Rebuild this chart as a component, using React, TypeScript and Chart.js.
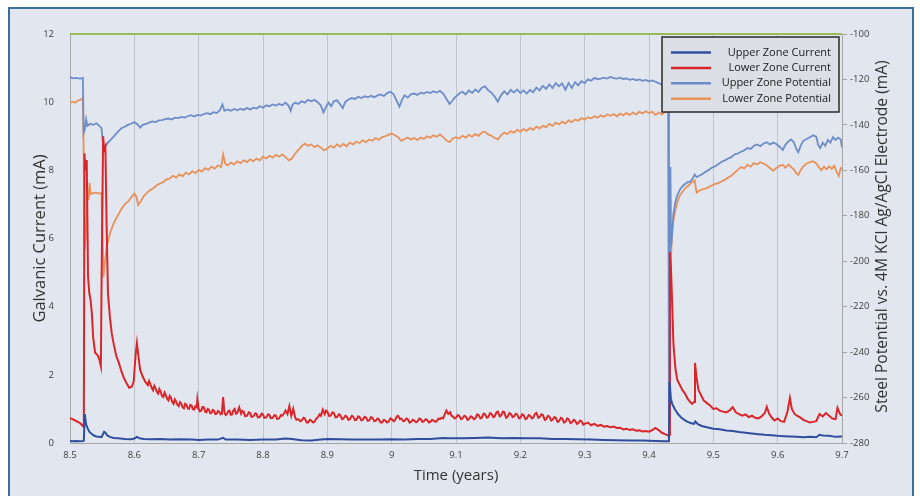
import React, { useEffect, useRef } from "react";
import { Chart, registerables } from "chart.js";

Chart.register(...registerables);

// ---------- DATA ----------
const seriesLabels = [
  "Upper Zone Current",
  "Lower Zone Current",
  "Upper Zone Potential",
  "Lower Zone Potential",
];

const xTicks = [8.5, 8.6, 8.7, 8.8, 8.9, 9.0, 9.1, 9.2, 9.3, 9.4, 9.5, 9.6, 9.7];
const leftTicks = [0, 2, 4, 6, 8, 10, 12];
const rightTicks = [-280, -260, -240, -220, -200, -180, -160, -140, -120, -100];

// [time (years), current (mA)]
const upperZoneCurrent: [number, number][] = [
  [8.5, 0.06], [8.505, 0.05], [8.51, 0.06], [8.515, 0.05], [8.52, 0.06], [8.5215, 0.07],
  [8.523, 0.85], [8.525, 0.55], [8.527, 0.45], [8.53, 0.33], [8.533, 0.28], [8.537, 0.22],
  [8.541, 0.19], [8.545, 0.18], [8.549, 0.17], [8.551, 0.25], [8.553, 0.33], [8.555, 0.3],
  [8.558, 0.22], [8.562, 0.18], [8.568, 0.15], [8.575, 0.14], [8.585, 0.12], [8.595, 0.11],
  [8.6, 0.13], [8.604, 0.18], [8.608, 0.14], [8.615, 0.12], [8.625, 0.11], [8.64, 0.12],
  [8.655, 0.1], [8.67, 0.11], [8.69, 0.1], [8.7, 0.09], [8.715, 0.1], [8.73, 0.1],
  [8.738, 0.15], [8.742, 0.1], [8.76, 0.1], [8.78, 0.09], [8.8, 0.1], [8.82, 0.1],
  [8.835, 0.13], [8.845, 0.12], [8.86, 0.08], [8.875, 0.07], [8.89, 0.1], [8.9, 0.12],
  [8.92, 0.11], [8.94, 0.1], [8.96, 0.1], [8.98, 0.1], [9.0, 0.11], [9.02, 0.1],
  [9.04, 0.12], [9.06, 0.12], [9.08, 0.15], [9.09, 0.14], [9.11, 0.14], [9.13, 0.15],
  [9.15, 0.16], [9.17, 0.14], [9.19, 0.15], [9.21, 0.14], [9.23, 0.14], [9.25, 0.12],
  [9.27, 0.12], [9.29, 0.11], [9.31, 0.1], [9.33, 0.09], [9.35, 0.08], [9.37, 0.07],
  [9.39, 0.07], [9.41, 0.06], [9.425, 0.05], [9.431, 0.05], [9.432, 1.8], [9.434, 1.3],
  [9.436, 1.15], [9.44, 1.0], [9.445, 0.85], [9.45, 0.75], [9.455, 0.68], [9.46, 0.62],
  [9.466, 0.58], [9.47, 0.56], [9.472, 0.63], [9.476, 0.55], [9.482, 0.5], [9.49, 0.46],
  [9.5, 0.42], [9.51, 0.4], [9.52, 0.37], [9.53, 0.35], [9.54, 0.32], [9.55, 0.3],
  [9.56, 0.28], [9.57, 0.26], [9.58, 0.24], [9.59, 0.23], [9.6, 0.21], [9.61, 0.2],
  [9.62, 0.19], [9.63, 0.18], [9.64, 0.17], [9.65, 0.18], [9.66, 0.17], [9.665, 0.24],
  [9.67, 0.22], [9.68, 0.21], [9.69, 0.18], [9.7, 0.19],
];

// [time (years), current (mA)]
const lowerZoneCurrent: [number, number][] = [
  [8.5, 0.73], [8.504, 0.7], [8.508, 0.66], [8.512, 0.62], [8.516, 0.58], [8.52, 0.5],
  [8.5215, 0.47], [8.5225, 8.5], [8.524, 8.0], [8.526, 8.3], [8.528, 4.9], [8.53, 4.4],
  [8.532, 4.2], [8.534, 3.8], [8.536, 3.1], [8.539, 2.65], [8.542, 2.6], [8.545, 2.5],
  [8.548, 2.25], [8.549, 4.6], [8.5515, 9.0], [8.553, 8.6], [8.555, 8.7], [8.557, 6.3],
  [8.559, 4.4], [8.562, 3.7], [8.565, 3.2], [8.568, 2.9], [8.572, 2.55], [8.576, 2.35],
  [8.58, 2.1], [8.584, 1.9], [8.588, 1.75], [8.592, 1.62], [8.596, 1.65], [8.599, 1.8],
  [8.602, 2.6], [8.604, 2.93], [8.606, 2.6], [8.609, 2.15], [8.613, 1.95], [8.617, 1.8],
  [8.621, 1.7], [8.623, 1.82], [8.625, 1.72], [8.627, 1.62], [8.629, 1.55], [8.631, 1.68],
  [8.633, 1.6], [8.635, 1.5], [8.637, 1.45], [8.639, 1.58], [8.641, 1.5], [8.643, 1.38],
  [8.645, 1.35], [8.647, 1.48], [8.649, 1.4], [8.651, 1.3], [8.653, 1.25], [8.655, 1.38],
  [8.657, 1.32], [8.659, 1.2], [8.661, 1.15], [8.663, 1.28], [8.665, 1.22], [8.667, 1.12],
  [8.669, 1.08], [8.671, 1.2], [8.673, 1.16], [8.675, 1.05], [8.677, 1.02], [8.679, 1.15],
  [8.681, 1.12], [8.683, 1.02], [8.685, 1.0], [8.687, 1.12], [8.689, 1.1], [8.691, 0.99],
  [8.693, 0.98], [8.695, 1.08], [8.697, 1.05], [8.698, 1.28], [8.7, 1.0], [8.702, 0.93],
  [8.704, 0.95], [8.706, 1.06], [8.708, 1.05], [8.71, 0.92], [8.712, 0.9], [8.714, 1.0],
  [8.716, 0.98], [8.718, 0.87], [8.72, 0.88], [8.722, 0.97], [8.724, 0.95], [8.726, 0.85],
  [8.728, 0.86], [8.73, 0.94], [8.732, 0.92], [8.734, 0.84], [8.736, 0.85], [8.738, 1.35],
  [8.74, 0.9], [8.742, 0.82], [8.744, 0.85], [8.746, 0.93], [8.748, 0.95], [8.75, 0.83],
  [8.752, 0.84], [8.754, 0.96], [8.756, 1.0], [8.758, 0.86], [8.76, 0.88], [8.763, 1.05],
  [8.766, 0.86], [8.768, 0.94], [8.77, 0.92], [8.772, 0.79], [8.775, 0.8], [8.778, 0.9],
  [8.78, 0.88], [8.782, 0.77], [8.785, 0.78], [8.788, 0.87], [8.79, 0.85], [8.792, 0.75],
  [8.795, 0.76], [8.798, 0.86], [8.8, 0.84], [8.802, 0.74], [8.805, 0.75], [8.808, 0.84],
  [8.81, 0.82], [8.812, 0.73], [8.815, 0.74], [8.818, 0.82], [8.82, 0.8], [8.822, 0.71],
  [8.825, 0.72], [8.828, 0.82], [8.83, 0.8], [8.833, 0.88], [8.835, 0.95], [8.838, 0.85],
  [8.841, 1.08], [8.844, 0.8], [8.847, 1.0], [8.85, 0.75], [8.852, 0.68], [8.855, 0.7],
  [8.858, 0.64], [8.86, 0.66], [8.863, 0.74], [8.865, 0.72], [8.868, 0.6], [8.87, 0.6],
  [8.873, 0.68], [8.875, 0.66], [8.878, 0.6], [8.88, 0.62], [8.883, 0.72], [8.885, 0.75],
  [8.888, 0.84], [8.89, 0.8], [8.893, 0.98], [8.896, 0.85], [8.898, 0.95], [8.9, 0.92],
  [8.903, 0.79], [8.905, 0.8], [8.908, 0.9], [8.91, 0.88], [8.913, 0.75], [8.915, 0.76],
  [8.918, 0.84], [8.92, 0.82], [8.923, 0.7], [8.925, 0.72], [8.928, 0.8], [8.93, 0.78],
  [8.933, 0.68], [8.935, 0.7], [8.938, 0.8], [8.94, 0.78], [8.943, 0.67], [8.945, 0.68],
  [8.948, 0.78], [8.95, 0.76], [8.953, 0.66], [8.955, 0.68], [8.958, 0.77], [8.96, 0.75],
  [8.963, 0.65], [8.965, 0.66], [8.968, 0.76], [8.97, 0.74], [8.973, 0.64], [8.975, 0.65],
  [8.978, 0.72], [8.98, 0.7], [8.983, 0.6], [8.985, 0.6], [8.988, 0.68], [8.99, 0.66],
  [8.993, 0.6], [8.995, 0.62], [8.998, 0.72], [9.0, 0.7], [9.003, 0.64], [9.005, 0.66],
  [9.008, 0.78], [9.01, 0.8], [9.013, 0.7], [9.015, 0.72], [9.018, 0.64], [9.02, 0.65],
  [9.023, 0.72], [9.025, 0.7], [9.028, 0.6], [9.03, 0.62], [9.033, 0.68], [9.035, 0.66],
  [9.038, 0.61], [9.04, 0.63], [9.043, 0.72], [9.045, 0.7], [9.048, 0.62], [9.05, 0.64],
  [9.053, 0.7], [9.055, 0.68], [9.058, 0.6], [9.06, 0.62], [9.063, 0.68], [9.065, 0.66],
  [9.068, 0.62], [9.07, 0.64], [9.073, 0.72], [9.075, 0.7], [9.078, 0.74], [9.08, 0.72],
  [9.083, 0.86], [9.085, 0.95], [9.088, 0.85], [9.091, 0.9], [9.093, 0.8], [9.095, 0.78],
  [9.098, 0.72], [9.1, 0.74], [9.103, 0.82], [9.105, 0.8], [9.108, 0.7], [9.11, 0.72],
  [9.113, 0.8], [9.115, 0.78], [9.118, 0.68], [9.12, 0.7], [9.123, 0.78], [9.125, 0.76],
  [9.128, 0.7], [9.13, 0.72], [9.133, 0.84], [9.135, 0.82], [9.138, 0.72], [9.14, 0.74],
  [9.143, 0.86], [9.145, 0.84], [9.148, 0.74], [9.15, 0.76], [9.153, 0.88], [9.155, 0.86],
  [9.158, 0.76], [9.16, 0.78], [9.163, 0.9], [9.165, 0.92], [9.168, 0.78], [9.17, 0.8],
  [9.173, 0.92], [9.175, 0.9], [9.178, 0.74], [9.18, 0.76], [9.183, 0.88], [9.185, 0.86],
  [9.188, 0.76], [9.19, 0.78], [9.193, 0.86], [9.195, 0.84], [9.198, 0.72], [9.2, 0.74],
  [9.203, 0.84], [9.205, 0.82], [9.208, 0.7], [9.21, 0.72], [9.213, 0.82], [9.215, 0.8],
  [9.218, 0.72], [9.22, 0.74], [9.223, 0.86], [9.225, 0.88], [9.228, 0.74], [9.23, 0.76],
  [9.233, 0.84], [9.235, 0.82], [9.238, 0.68], [9.24, 0.7], [9.243, 0.8], [9.245, 0.78],
  [9.248, 0.66], [9.25, 0.68], [9.253, 0.76], [9.255, 0.74], [9.258, 0.62], [9.26, 0.64],
  [9.263, 0.74], [9.265, 0.72], [9.268, 0.6], [9.27, 0.62], [9.273, 0.72], [9.275, 0.7],
  [9.278, 0.58], [9.28, 0.6], [9.283, 0.68], [9.285, 0.66], [9.288, 0.56], [9.29, 0.58],
  [9.293, 0.66], [9.295, 0.64], [9.298, 0.54], [9.3, 0.56], [9.305, 0.6], [9.31, 0.52],
  [9.315, 0.56], [9.32, 0.5], [9.325, 0.53], [9.33, 0.48], [9.335, 0.5], [9.34, 0.46],
  [9.345, 0.48], [9.35, 0.44], [9.355, 0.45], [9.36, 0.4], [9.365, 0.42], [9.37, 0.38],
  [9.375, 0.4], [9.38, 0.36], [9.385, 0.37], [9.39, 0.34], [9.395, 0.35], [9.4, 0.33],
  [9.405, 0.38], [9.41, 0.44], [9.415, 0.38], [9.42, 0.3], [9.425, 0.26], [9.43, 0.22],
  [9.4315, 0.24], [9.4325, 5.6], [9.434, 5.2], [9.436, 4.1], [9.438, 2.9], [9.441, 2.2],
  [9.444, 1.85], [9.448, 1.7], [9.452, 1.55], [9.456, 1.45], [9.46, 1.3], [9.464, 1.2],
  [9.467, 1.15], [9.47, 1.2], [9.4715, 2.35], [9.474, 1.9], [9.477, 1.55], [9.481, 1.4],
  [9.485, 1.25], [9.49, 1.17], [9.495, 1.1], [9.5, 1.0], [9.505, 1.02], [9.51, 0.95],
  [9.515, 0.92], [9.52, 0.9], [9.525, 0.95], [9.53, 1.05], [9.535, 0.9], [9.54, 0.85],
  [9.545, 0.8], [9.55, 0.84], [9.555, 0.76], [9.56, 0.8], [9.565, 0.74], [9.57, 0.72],
  [9.575, 0.78], [9.58, 0.88], [9.583, 1.06], [9.587, 0.85], [9.591, 0.74], [9.595, 0.66],
  [9.6, 0.72], [9.605, 0.64], [9.61, 0.62], [9.615, 0.9], [9.619, 1.32], [9.622, 1.0],
  [9.626, 0.86], [9.63, 0.8], [9.635, 0.75], [9.64, 0.68], [9.645, 0.64], [9.65, 0.6],
  [9.655, 0.62], [9.66, 0.64], [9.665, 0.85], [9.67, 0.78], [9.675, 0.88], [9.68, 0.8],
  [9.685, 0.72], [9.69, 0.7], [9.693, 1.03], [9.697, 0.85], [9.7, 0.8],
];

// [time (years), potential (mV)]
const upperZonePotential: [number, number][] = [
  [8.5, -119.0], [8.505, -119.5], [8.51, -119.3], [8.515, -119.6], [8.52, -119.4],
  [8.5212, -143.5], [8.523, -142.0], [8.525, -137.5], [8.527, -140.5], [8.531, -139.5],
  [8.536, -140.0], [8.541, -139.3], [8.546, -140.5], [8.549, -141.5], [8.552, -150.5],
  [8.556, -149.0], [8.56, -147.5], [8.565, -146.0], [8.57, -144.5], [8.575, -142.8],
  [8.58, -141.5], [8.585, -140.8], [8.59, -140.0], [8.595, -139.5], [8.6, -138.8],
  [8.605, -139.8], [8.609, -141.2], [8.613, -140.0], [8.618, -139.6], [8.623, -139.0],
  [8.628, -138.5], [8.633, -138.8], [8.638, -138.0], [8.643, -137.9], [8.648, -137.5],
  [8.653, -137.2], [8.658, -137.6], [8.663, -136.8], [8.668, -137.0], [8.673, -136.5],
  [8.678, -136.8], [8.683, -136.2], [8.688, -135.7], [8.693, -136.3], [8.698, -135.6],
  [8.703, -135.9], [8.708, -135.2], [8.713, -134.8], [8.718, -135.3], [8.723, -134.4],
  [8.728, -134.8], [8.733, -133.5], [8.737, -131.0], [8.74, -133.8], [8.745, -133.2],
  [8.75, -133.8], [8.755, -133.0], [8.76, -133.6], [8.765, -132.9], [8.77, -133.4],
  [8.775, -132.6], [8.78, -133.2], [8.785, -132.4], [8.79, -132.8], [8.795, -131.8],
  [8.8, -132.4], [8.805, -131.4], [8.81, -131.8], [8.815, -131.0], [8.82, -131.5],
  [8.825, -130.8], [8.83, -131.3], [8.835, -130.2], [8.84, -131.6], [8.843, -133.8],
  [8.846, -131.0], [8.85, -130.2], [8.855, -130.8], [8.86, -129.6], [8.865, -130.2],
  [8.87, -129.0], [8.875, -129.6], [8.88, -129.0], [8.885, -130.0], [8.89, -131.5],
  [8.894, -134.5], [8.898, -132.0], [8.902, -130.2], [8.906, -131.8], [8.91, -129.6],
  [8.915, -129.2], [8.92, -131.0], [8.924, -132.6], [8.928, -129.8], [8.933, -128.8],
  [8.938, -128.2], [8.943, -128.6], [8.948, -127.6], [8.953, -128.2], [8.958, -127.4],
  [8.963, -127.9], [8.968, -127.2], [8.973, -127.8], [8.978, -127.0], [8.983, -126.6],
  [8.988, -127.3], [8.993, -126.0], [8.998, -125.4], [9.003, -126.5], [9.008, -129.5],
  [9.012, -132.0], [9.016, -129.0], [9.02, -127.0], [9.025, -128.0], [9.03, -126.5],
  [9.035, -126.2], [9.04, -126.8], [9.045, -125.8], [9.05, -126.2], [9.055, -125.5],
  [9.06, -126.0], [9.065, -125.2], [9.07, -125.8], [9.075, -125.0], [9.08, -126.2],
  [9.085, -128.5], [9.09, -130.8], [9.094, -129.5], [9.098, -128.0], [9.102, -127.0],
  [9.106, -126.0], [9.11, -125.4], [9.115, -126.6], [9.12, -124.8], [9.125, -126.0],
  [9.13, -124.4], [9.135, -125.5], [9.14, -123.6], [9.145, -123.0], [9.15, -124.8],
  [9.155, -125.8], [9.16, -127.5], [9.165, -129.8], [9.17, -127.0], [9.175, -125.2],
  [9.18, -126.6], [9.185, -124.6], [9.19, -125.8], [9.195, -124.4], [9.2, -126.0],
  [9.205, -124.8], [9.21, -126.2], [9.215, -124.6], [9.22, -125.6], [9.225, -123.6],
  [9.23, -124.8], [9.235, -122.8], [9.24, -124.2], [9.245, -122.2], [9.25, -123.8],
  [9.255, -121.6], [9.26, -123.0], [9.265, -121.8], [9.27, -124.5], [9.275, -121.6],
  [9.28, -123.8], [9.285, -121.2], [9.29, -122.6], [9.295, -120.8], [9.3, -121.6],
  [9.305, -120.0], [9.31, -120.6], [9.315, -119.4], [9.32, -119.8], [9.325, -119.6],
  [9.33, -119.2], [9.335, -119.6], [9.34, -118.9], [9.345, -119.4], [9.35, -119.6],
  [9.355, -119.2], [9.36, -119.8], [9.365, -119.6], [9.37, -120.2], [9.375, -119.8],
  [9.38, -120.4], [9.385, -120.0], [9.39, -120.6], [9.395, -120.2], [9.4, -120.8],
  [9.405, -120.4], [9.41, -121.0], [9.415, -121.6], [9.42, -122.4], [9.425, -122.0],
  [9.43, -122.4], [9.431, -275.0], [9.4325, -259.0], [9.4333, -158.5], [9.4343, -193.5],
  [9.436, -188.0], [9.438, -179.0], [9.441, -174.0], [9.444, -171.0], [9.448, -168.5],
  [9.452, -167.0], [9.456, -166.0], [9.46, -165.2], [9.464, -165.0], [9.468, -163.5],
  [9.471, -161.8], [9.474, -163.0], [9.478, -162.4], [9.483, -161.6], [9.488, -160.6],
  [9.493, -159.8], [9.498, -158.8], [9.503, -158.2], [9.508, -157.2], [9.513, -156.2],
  [9.518, -155.6], [9.523, -154.8], [9.528, -154.2], [9.533, -153.0], [9.538, -152.6],
  [9.543, -151.8], [9.548, -151.2], [9.553, -150.2], [9.558, -150.6], [9.563, -149.2],
  [9.568, -148.6], [9.573, -149.4], [9.578, -148.2], [9.583, -147.6], [9.588, -148.6],
  [9.593, -147.8], [9.598, -148.4], [9.603, -149.6], [9.608, -151.0], [9.612, -148.8],
  [9.617, -147.2], [9.621, -146.4], [9.625, -147.6], [9.629, -150.6], [9.632, -152.0],
  [9.636, -149.0], [9.64, -147.0], [9.645, -146.2], [9.65, -145.4], [9.655, -144.6],
  [9.66, -145.2], [9.663, -148.8], [9.666, -150.2], [9.67, -147.8], [9.674, -149.2],
  [9.678, -146.6], [9.682, -147.8], [9.686, -145.4], [9.69, -146.6], [9.694, -145.6],
  [9.698, -146.4], [9.7, -150.0],
];

// [time (years), potential (mV)]
const lowerZonePotential: [number, number][] = [
  [8.5, -130.4], [8.504, -129.8], [8.508, -130.2], [8.512, -129.3], [8.516, -129.0],
  [8.52, -128.2], [8.5212, -150.0], [8.5225, -195.0], [8.524, -192.0], [8.526, -178.0],
  [8.528, -168.0], [8.529, -173.0], [8.5305, -165.5], [8.532, -170.5], [8.536, -170.0],
  [8.54, -169.8], [8.545, -170.2], [8.549, -170.0], [8.5505, -190.0], [8.552, -207.0],
  [8.554, -201.0], [8.557, -194.0], [8.56, -190.0], [8.563, -187.0], [8.567, -184.0],
  [8.571, -181.5], [8.575, -179.5], [8.58, -177.0], [8.585, -175.0], [8.59, -173.8],
  [8.595, -172.0], [8.6, -170.2], [8.603, -171.5], [8.606, -175.3], [8.61, -173.6],
  [8.615, -171.2], [8.62, -169.8], [8.625, -168.6], [8.63, -167.8], [8.635, -166.6],
  [8.64, -165.8], [8.645, -165.2], [8.65, -164.0], [8.655, -163.6], [8.66, -162.4],
  [8.665, -163.2], [8.67, -161.8], [8.675, -162.6], [8.68, -161.0], [8.685, -161.8],
  [8.69, -160.4], [8.695, -161.2], [8.7, -159.8], [8.705, -160.6], [8.71, -159.0],
  [8.715, -159.8], [8.72, -158.4], [8.725, -159.2], [8.73, -157.8], [8.735, -158.6],
  [8.738, -153.0], [8.741, -157.0], [8.745, -157.8], [8.75, -156.6], [8.755, -157.4],
  [8.76, -156.0], [8.765, -156.8], [8.77, -155.6], [8.775, -156.4], [8.78, -155.2],
  [8.785, -156.0], [8.79, -154.8], [8.795, -155.6], [8.8, -154.0], [8.805, -154.8],
  [8.81, -153.6], [8.815, -154.4], [8.82, -153.2], [8.825, -154.0], [8.83, -153.0],
  [8.835, -154.2], [8.84, -155.6], [8.845, -154.8], [8.85, -152.6], [8.855, -151.0],
  [8.86, -149.4], [8.865, -148.2], [8.87, -149.2], [8.875, -148.6], [8.88, -149.8],
  [8.885, -149.0], [8.89, -150.0], [8.895, -151.2], [8.9, -150.4], [8.905, -149.2],
  [8.91, -150.0], [8.915, -148.6], [8.92, -149.6], [8.925, -148.4], [8.93, -149.4],
  [8.935, -147.8], [8.94, -148.6], [8.945, -147.4], [8.95, -148.0], [8.955, -146.8],
  [8.96, -147.6], [8.965, -146.4], [8.97, -147.0], [8.975, -145.8], [8.98, -146.6],
  [8.985, -145.4], [8.99, -145.0], [8.995, -144.4], [9.0, -143.8], [9.005, -144.6],
  [9.01, -145.4], [9.015, -147.0], [9.02, -146.2], [9.025, -145.6], [9.03, -146.4],
  [9.035, -145.8], [9.04, -146.6], [9.045, -145.6], [9.05, -146.2], [9.055, -145.0],
  [9.06, -145.6], [9.065, -144.6], [9.07, -145.2], [9.075, -144.2], [9.08, -145.4],
  [9.085, -146.8], [9.09, -147.6], [9.095, -146.0], [9.1, -145.4], [9.105, -146.0],
  [9.11, -144.8], [9.115, -145.6], [9.12, -144.4], [9.125, -145.2], [9.13, -144.0],
  [9.135, -144.8], [9.14, -143.4], [9.145, -143.0], [9.15, -144.2], [9.155, -144.8],
  [9.16, -145.8], [9.165, -146.4], [9.17, -144.6], [9.175, -143.4], [9.18, -144.0],
  [9.185, -142.8], [9.19, -143.4], [9.195, -142.2], [9.2, -143.0], [9.205, -141.8],
  [9.21, -142.6], [9.215, -141.4], [9.22, -142.2], [9.225, -140.8], [9.23, -141.6],
  [9.235, -140.4], [9.24, -141.0], [9.245, -139.6], [9.25, -140.4], [9.255, -139.0],
  [9.26, -139.8], [9.265, -138.6], [9.27, -139.4], [9.275, -138.0], [9.28, -138.8],
  [9.285, -137.6], [9.29, -138.2], [9.295, -137.0], [9.3, -137.6], [9.305, -136.6],
  [9.31, -137.2], [9.315, -136.2], [9.32, -136.8], [9.325, -135.8], [9.33, -136.4],
  [9.335, -135.4], [9.34, -136.0], [9.345, -135.2], [9.35, -136.2], [9.355, -135.0],
  [9.36, -135.8], [9.365, -134.8], [9.37, -135.6], [9.375, -134.6], [9.38, -135.4],
  [9.385, -134.2], [9.39, -135.0], [9.395, -134.0], [9.4, -134.8], [9.405, -134.2],
  [9.41, -135.6], [9.415, -134.6], [9.42, -135.4], [9.425, -134.2], [9.43, -134.6],
  [9.431, -230.0], [9.433, -205.0], [9.4345, -196.0], [9.436, -187.0], [9.438, -182.0],
  [9.441, -177.5], [9.444, -174.0], [9.448, -171.0], [9.452, -169.5], [9.456, -168.0],
  [9.46, -167.0], [9.464, -166.0], [9.468, -165.0], [9.471, -164.4], [9.474, -169.8],
  [9.478, -169.0], [9.483, -168.4], [9.488, -168.0], [9.493, -167.4], [9.498, -166.6],
  [9.503, -166.0], [9.508, -165.6], [9.513, -164.8], [9.518, -164.2], [9.523, -163.2],
  [9.528, -162.4], [9.533, -161.0], [9.538, -159.8], [9.543, -158.6], [9.548, -159.2],
  [9.553, -157.6], [9.558, -158.4], [9.563, -156.8], [9.568, -157.4], [9.573, -156.4],
  [9.578, -157.0], [9.583, -157.8], [9.588, -159.0], [9.593, -160.2], [9.598, -159.0],
  [9.603, -158.0], [9.608, -157.6], [9.612, -158.8], [9.617, -157.4], [9.621, -158.6],
  [9.625, -159.6], [9.629, -161.2], [9.632, -162.0], [9.636, -159.8], [9.64, -158.2],
  [9.645, -157.0], [9.65, -156.4], [9.655, -156.0], [9.66, -157.0], [9.664, -158.6],
  [9.668, -160.0], [9.672, -158.4], [9.676, -159.6], [9.68, -158.2], [9.684, -159.4],
  [9.688, -158.0], [9.692, -160.8], [9.695, -162.5], [9.698, -159.0], [9.7, -159.6],
];

// ---------- STYLE ----------
const COLORS = ["#2f4f9e", "#d9262a", "#6d8dc9", "#e8925b"];
const WIDTHS = [2, 2, 1.8, 1.8];
const FONT = '"Open Sans", "Noto Sans", sans-serif';
const RIGHT_TITLE = "Steel Potential vs. 4M KCl Ag/AgCl Electrode (mA)";

const toXY = (arr: [number, number][]) => arr.map(([x, y]) => ({ x, y }));

const decorPlugin = {
  id: "decor",
  afterDraw(chart: any) {
    const { ctx, chartArea: ca } = chart;
    ctx.save();
    // green top border of plot area
    ctx.strokeStyle = "#9bbb59";
    ctx.lineWidth = 2;
    ctx.beginPath();
    ctx.moveTo(ca.left, ca.top);
    ctx.lineTo(ca.right, ca.top);
    ctx.stroke();

    // right axis title (reads bottom to top)
    ctx.translate(883, (ca.top + ca.bottom) / 2 - 2);
    ctx.rotate(-Math.PI / 2);
    ctx.fillStyle = "#333333";
    ctx.font = `15.6px ${FONT}`;
    ctx.textAlign = "center";
    ctx.textBaseline = "middle";
    ctx.fillText(RIGHT_TITLE, 0, 0);
    ctx.restore();

    // legend box
    ctx.save();
    const boxR = ca.right - 3;
    const boxT = ca.top + 3;
    const boxL = boxR - 177;
    const boxH = 75;
    ctx.fillStyle = "#dcdfe5";
    ctx.fillRect(boxL, boxT, boxR - boxL, boxH);
    ctx.strokeStyle = "#2a2a2a";
    ctx.lineWidth = 1.5;
    ctx.strokeRect(boxL, boxT, boxR - boxL, boxH);
    ctx.font = `11px ${FONT}`;
    ctx.textAlign = "right";
    ctx.textBaseline = "middle";
    chart.data.datasets.forEach((ds: any, i: number) => {
      const y = boxT + 15.5 + i * 15.4;
      ctx.strokeStyle = ds.borderColor;
      ctx.lineWidth = 2.5;
      ctx.beginPath();
      ctx.moveTo(boxL + 9, y);
      ctx.lineTo(boxL + 49, y);
      ctx.stroke();
      ctx.fillStyle = "#1a1a1a";
      ctx.fillText(ds.label, boxR - 8, y);
    });
    ctx.restore();
  },
};

export default function App() {
  const ref = useRef<HTMLCanvasElement | null>(null);

  useEffect(() => {
    if (!ref.current) return;
    const series = [upperZoneCurrent, lowerZoneCurrent, upperZonePotential, lowerZonePotential];
    const chart = new Chart(ref.current, {
      type: "line",
      data: {
        datasets: series.map((s, i) => ({
          label: seriesLabels[i],
          data: toXY(s),
          borderColor: COLORS[i],
          backgroundColor: COLORS[i],
          borderWidth: WIDTHS[i],
          pointRadius: 0,
          tension: 0,
          fill: false,
          yAxisID: i < 2 ? "y" : "y1",
        })),
      },
      options: {
        responsive: false,
        maintainAspectRatio: false,
        animation: false,
        layout: { padding: { left: 0, right: 0, top: 34, bottom: 0 } },
        plugins: { legend: { display: false }, tooltip: { enabled: false } },
        scales: {
          x: {
            type: "linear",
            min: 8.5,
            max: 9.7,
            afterBuildTicks: (s: any) => {
              s.ticks = xTicks.map((v) => ({ value: v }));
            },
            afterFit: (s: any) => {
              s.height = 53;
            },
            ticks: {
              autoSkip: false,
              maxRotation: 0,
              padding: 7,
              color: "#404040",
              font: { family: FONT, size: 9.5 },
              callback: (v: any) => String(Math.round(Number(v) * 10) / 10),
            },
            grid: { color: "#bfc3cb", lineWidth: 1, drawTicks: false },
            border: { color: "#a6a6a6", width: 1 },
            title: {
              display: true,
              text: "Time (years)",
              color: "#333333",
              font: { family: FONT, size: 15 },
              padding: { top: 0, bottom: 11 },
            },
          },
          y: {
            type: "linear",
            position: "left",
            min: 0,
            max: 12,
            afterBuildTicks: (s: any) => {
              s.ticks = leftTicks.map((v) => ({ value: v }));
            },
            afterFit: (s: any) => {
              s.width = 70;
            },
            ticks: {
              padding: 8,
              color: "#404040",
              font: { family: FONT, size: 9.5 },
            },
            grid: { display: false },
            border: { color: "#a6a6a6", width: 1 },
            title: {
              display: true,
              text: "Galvanic Current (mA)",
              color: "#333333",
              font: { family: FONT, size: 16.5 },
              padding: { top: 30, bottom: 0 },
            },
          },
          y1: {
            type: "linear",
            position: "right",
            min: -280,
            max: -100,
            afterBuildTicks: (s: any) => {
              s.ticks = rightTicks.map((v) => ({ value: v }));
            },
            afterFit: (s: any) => {
              s.width = 78;
            },
            ticks: {
              padding: 3,
              color: "#404040",
              font: { family: FONT, size: 9.5 },
            },
            grid: {
              drawOnChartArea: false,
              drawTicks: true,
              tickLength: 5,
              tickColor: "#a6a6a6",
            },
            border: { color: "#a6a6a6", width: 1 },
          },
        },
      },
      plugins: [decorPlugin],
    });
    return () => chart.destroy();
  }, []);

  return (
    <div
      style={{
        position: "fixed",
        left: 0,
        top: 0,
        width: 920,
        height: 496,
        background: "#ffffff",
        overflow: "hidden",
      }}
    >
      <div
        style={{
          position: "absolute",
          left: 8,
          top: 7,
          width: 902,
          height: 520,
          border: "2px solid #3d6d9c",
          background: "#e2e6ee",
        }}
      />
      <canvas
        ref={ref}
        width={920}
        height={496}
        style={{ position: "absolute", left: 0, top: 0, width: 920, height: 496 }}
      />
    </div>
  );
}
